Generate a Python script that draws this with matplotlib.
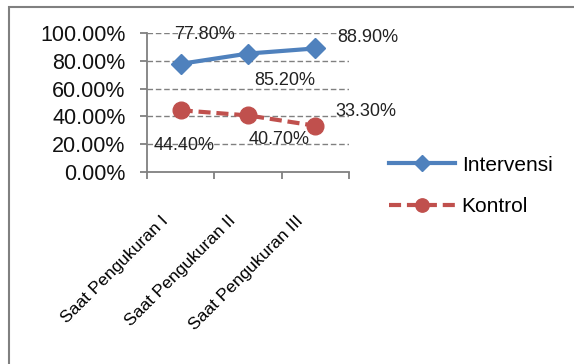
import matplotlib.pyplot as plt
from matplotlib.patches import Rectangle
from matplotlib.ticker import FuncFormatter, FixedLocator
from matplotlib.transforms import ScaledTranslation

plt.rcParams['font.family'] = ['Liberation Sans', 'DejaVu Sans']

categories = ['Saat Pengukuran I', 'Saat Pengukuran II', 'Saat Pengukuran III']
intervensi = [77.8, 85.2, 88.9]
kontrol = [44.4, 40.7, 33.3]
y_ticks = [0, 20, 40, 60, 80, 100]

# label offsets in pixels relative to the marker
off_int = [(24, 29), (37, -27), (52, 11)]
off_kon = [(3, -35), (31, -24), (51, 14)]

fig = plt.figure(figsize=(5.74, 3.64), dpi=100)
fig.patch.set_facecolor('white')
fig.patches.append(Rectangle((9 / 574, -0.1), 1.2, 1 - 7 / 364 + 0.1, transform=fig.transFigure,
                             fill=False, edgecolor='#808080', lw=1.5))

ax = fig.add_axes([147 / 574, 1 - 172 / 364, (349 - 147) / 574, 139 / 364])
x = list(range(len(categories)))

ax.plot(x, intervensi, color='#4F81BD', lw=3, marker='D', ms=10, label='Intervensi')
ax.plot(x, kontrol, color='#C0504D', lw=3, marker='o', ms=12, dashes=(2.9, 1.4), label='Kontrol')

for i in x:
    ax.annotate('%.2f%%' % intervensi[i], (i, intervensi[i]), xytext=off_int[i], textcoords='offset pixels',
                ha='center', va='center', fontsize=13, color='#222222', annotation_clip=False)
    ax.annotate('%.2f%%' % kontrol[i], (i, kontrol[i]), xytext=off_kon[i], textcoords='offset pixels',
                ha='center', va='center', fontsize=13, color='#222222', annotation_clip=False)

ax.set_xlim(-0.5, 2.5)
ax.set_ylim(0, 100)
ax.set_yticks(y_ticks)
ax.yaxis.set_major_formatter(FuncFormatter(lambda v, p: '%.2f%%' % v))
ax.xaxis.set_major_locator(FixedLocator([-0.5, 0.5, 1.5, 2.5]))
ax.xaxis.set_major_formatter(FuncFormatter(lambda v, p: ''))
ax.set_xticks(x, minor=True)
ax.set_xticklabels(categories, minor=True, rotation=45, ha='right', rotation_mode='anchor', fontsize=12.5)
ax.tick_params(axis='x', which='minor', length=0, pad=10)
ax.tick_params(axis='x', which='major', length=5, color='#808080', width=1.3)
ax.tick_params(axis='y', length=5, color='#808080', width=1.3, labelsize=15.5, pad=10.5, labelcolor='#111111')

shift = ScaledTranslation(-20 / 100, -27 / 100, fig.dpi_scale_trans)
for lbl in ax.get_xticklabels(minor=True):
    lbl.set_transform(lbl.get_transform() + shift)

for y in y_ticks[1:]:
    ax.axhline(y, color='#808080', lw=1, dashes=(4, 2), zorder=0)

for s in ['top', 'right']:
    ax.spines[s].set_visible(False)
for s in ['left', 'bottom']:
    ax.spines[s].set_color('#808080')
    ax.spines[s].set_linewidth(1.3)

fig.legend(loc='center left', bbox_to_anchor=(370 / 574, 1 - 186 / 364), frameon=False, fontsize=15,
           handlelength=3.2, handletextpad=0.3, labelspacing=1.1, markerscale=0.8)

fig.savefig('out.png', dpi=100)
